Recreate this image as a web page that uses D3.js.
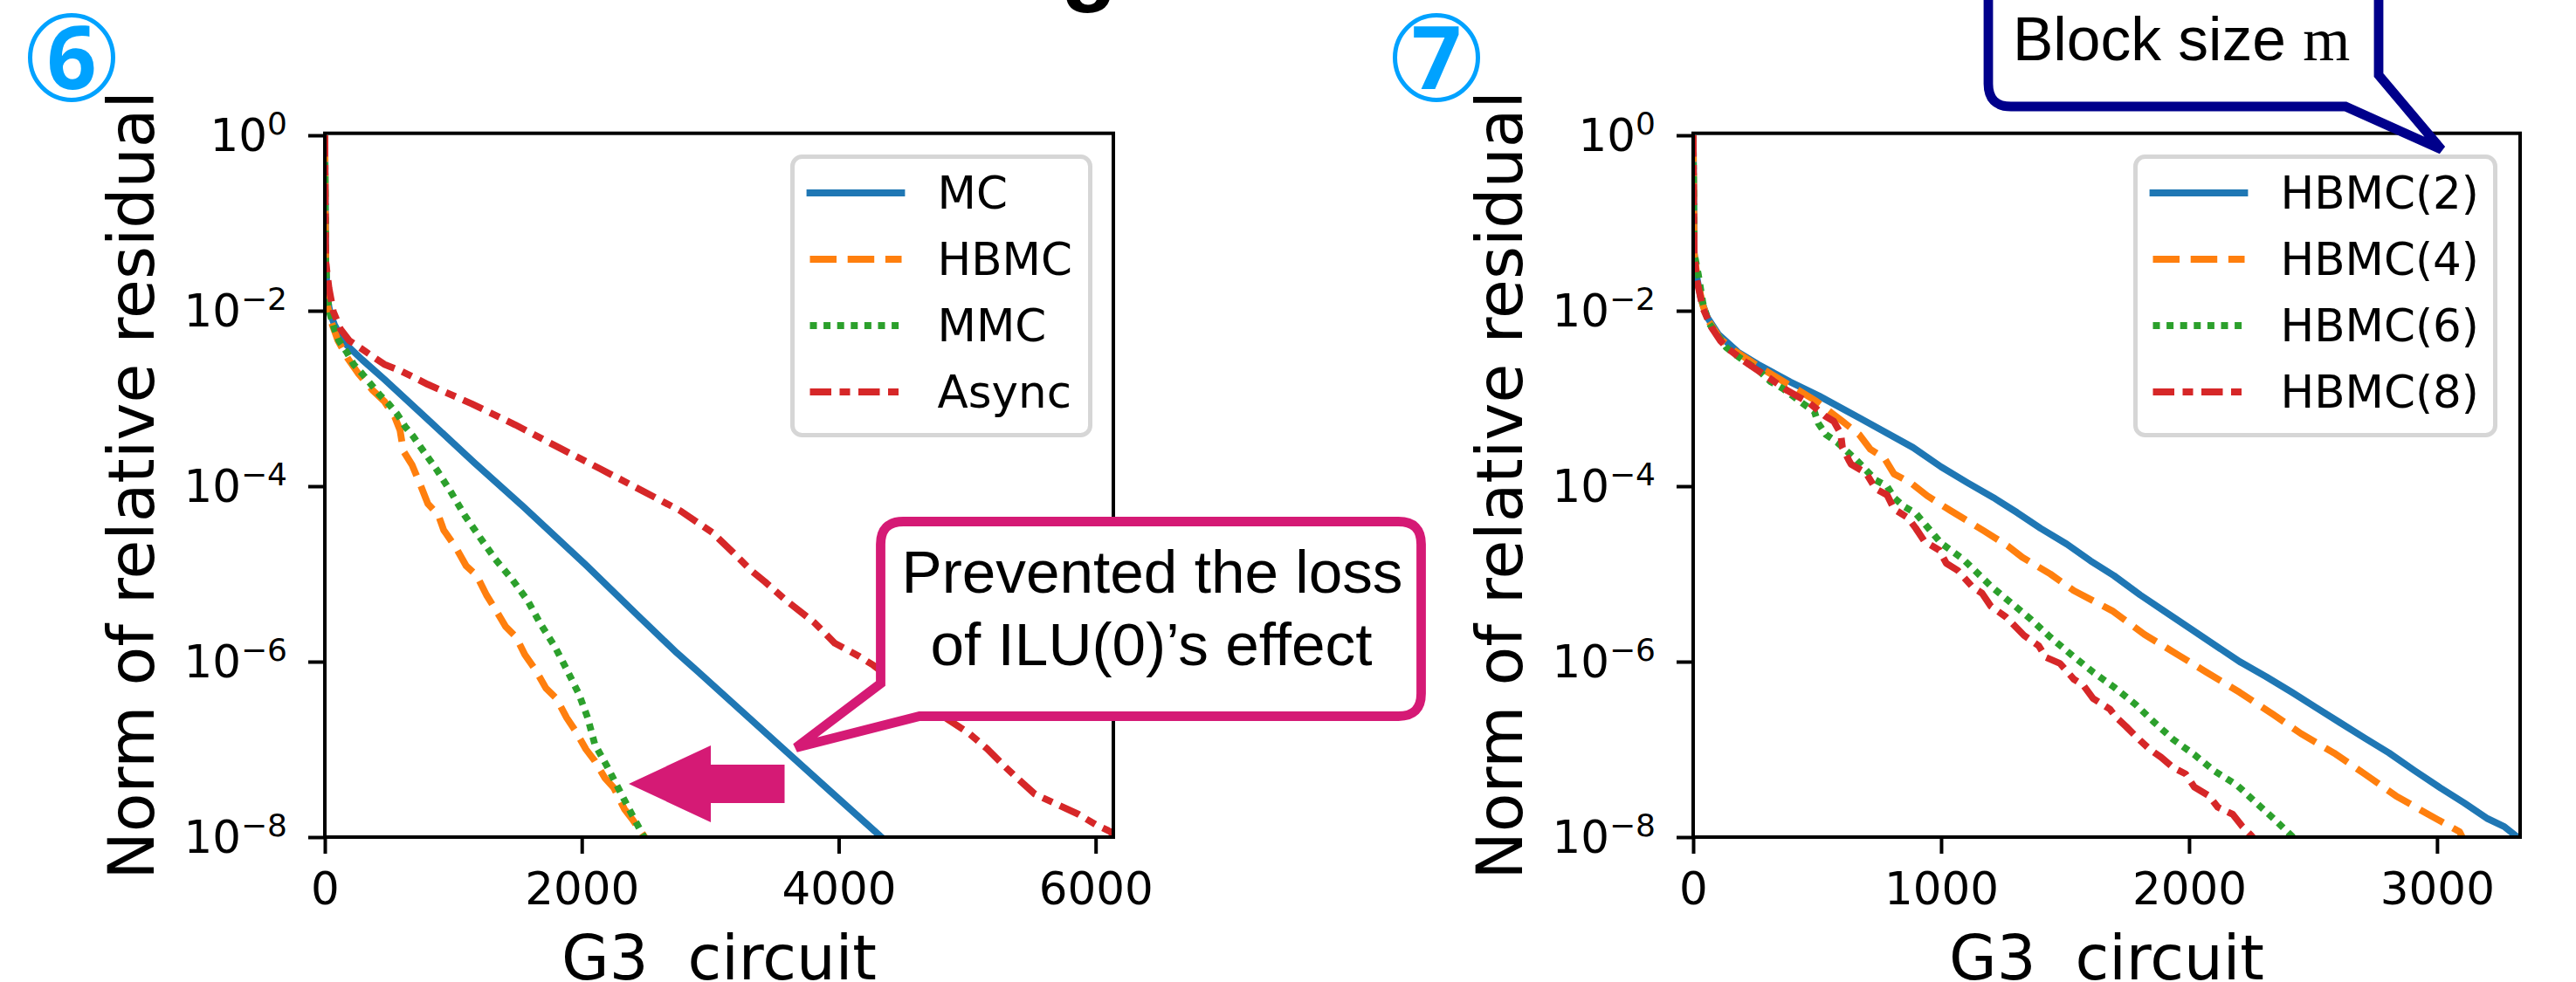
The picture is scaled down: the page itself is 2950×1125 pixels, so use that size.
<!DOCTYPE html>
<html><head><meta charset="utf-8">
<script src="https://cdn.jsdelivr.net/npm/d3@7"></script>
<style>
html,body{margin:0;padding:0;background:#fff;overflow:hidden}
svg{display:block}
text{fill:#000}
</style></head><body>
<svg id="c" width="2950" height="1125"></svg>
<script>
// ---- data: [iteration, log10(norm of relative residual)] ----
const xLabel = "G3\u00a0\u00a0circuit";
const yLabel = "Norm\u00a0of\u00a0relative\u00a0residual";
const yTickExponents = [0,-2,-4,-6,-8];
const leftXTicks = [0,2000,4000,6000];
const rightXTicks = [0,1000,2000,3000];
const leftNames = ["MC","HBMC","MMC","Async"];
const rightNames = ["HBMC(2)","HBMC(4)","HBMC(6)","HBMC(8)"];

const mc = [[0,0],[3,-.75],[7,-1.44],[20,-1.87],[41,-2.02],[75,-2.16],[122,-2.29],[170,-2.39],[292,-2.56],[462,-2.78],[802,-3.24],[1162,-3.73],[1550,-4.24],[2033,-4.90],[2434,-5.47],[2740,-5.90],[2910,-6.12],[3535,-6.95],[3929,-7.47],[4324,-7.99],[4350,-8.02]];
const hbmc = [[0,0],[3,-.75],[7,-1.44],[20,-1.94],[54,-2.14],[102,-2.34],[177,-2.54],[258,-2.71],[374,-2.91],[462,-3.03],[544,-3.21],[585,-3.36],[612,-3.60],[680,-3.76],[748,-4.00],[802,-4.20],[884,-4.33],[925,-4.50],[1020,-4.70],[1101,-4.91],[1183,-5.02],[1258,-5.24],[1326,-5.40],[1407,-5.60],[1489,-5.72],[1557,-5.92],[1638,-6.09],[1720,-6.30],[1802,-6.42],[1883,-6.64],[1951,-6.79],[2033,-7.00],[2101,-7.13],[2182,-7.33],[2250,-7.44],[2332,-7.68],[2400,-7.81],[2481,-7.98],[2500,-8.02]];
const mmc = [[0,0],[3,-.75],[7,-1.44],[20,-1.84],[41,-2.04],[75,-2.21],[109,-2.34],[170,-2.47],[224,-2.61],[292,-2.72],[360,-2.84],[428,-2.96],[496,-3.06],[564,-3.18],[625,-3.32],[687,-3.43],[748,-3.56],[870,-3.81],[979,-4.06],[1088,-4.33],[1210,-4.59],[1326,-4.83],[1462,-5.07],[1577,-5.30],[1679,-5.57],[1795,-5.84],[1883,-6.09],[1978,-6.37],[2046,-6.64],[2101,-6.94],[2196,-7.19],[2291,-7.46],[2386,-7.73],[2481,-7.99],[2490,-8.02]];
const asyncRes = [[0,0],[3,-.75],[7,-1.44],[32,-1.74],[66,-2.01],[122,-2.21],[190,-2.34],[272,-2.42],[462,-2.61],[598,-2.69],[802,-2.84],[1142,-3.06],[1482,-3.30],[1822,-3.56],[2141,-3.80],[2468,-4.05],[2767,-4.28],[3018,-4.53],[3181,-4.76],[3317,-4.96],[3426,-5.09],[3589,-5.30],[3807,-5.55],[3970,-5.79],[4160,-5.94],[4269,-6.04],[4541,-6.34],[4861,-6.67],[5017,-6.82],[5153,-6.99],[5289,-7.19],[5391,-7.33],[5527,-7.51],[5676,-7.61],[5867,-7.74],[6003,-7.86],[6118,-7.94],[6138,-7.99]];

const hbmc2 = [[0,0],[2,-.75],[4,-1.34],[14,-1.61],[32,-1.87],[56,-2.07],[102,-2.27],[180,-2.47],[261,-2.61],[391,-2.81],[507,-2.97],[676,-3.23],[887,-3.56],[1000,-3.78],[1106,-3.96],[1211,-4.13],[1306,-4.30],[1401,-4.48],[1507,-4.66],[1602,-4.85],[1697,-5.02],[1803,-5.24],[1898,-5.42],[2003,-5.62],[2109,-5.82],[2204,-6.00],[2310,-6.17],[2415,-6.35],[2510,-6.52],[2606,-6.69],[2708,-6.87],[2806,-7.04],[2908,-7.24],[3014,-7.44],[3109,-7.61],[3204,-7.79],[3271,-7.88],[3320,-7.99],[3330,-8.02]];
const hbmc4 = [[0,0],[2,-.75],[4,-1.34],[18,-1.66],[39,-1.94],[63,-2.12],[109,-2.32],[169,-2.46],[239,-2.59],[296,-2.69],[366,-2.81],[426,-2.91],[496,-3.03],[542,-3.13],[602,-3.26],[669,-3.41],[715,-3.58],[771,-3.68],[810,-3.86],[877,-3.96],[944,-4.11],[1039,-4.28],[1173,-4.51],[1268,-4.68],[1327,-4.81],[1440,-5.00],[1535,-5.19],[1690,-5.42],[1820,-5.69],[1954,-5.92],[2070,-6.12],[2204,-6.35],[2338,-6.60],[2451,-6.82],[2584,-7.04],[2708,-7.28],[2834,-7.53],[2958,-7.73],[3091,-7.94],[3105,-8.02]];
const hbmc6 = [[0,0],[2,-.75],[4,-1.34],[21,-1.59],[39,-1.91],[63,-2.14],[134,-2.42],[180,-2.52],[268,-2.69],[313,-2.81],[363,-2.89],[401,-2.97],[444,-3.06],[489,-3.15],[504,-3.28],[535,-3.41],[581,-3.50],[658,-3.70],[736,-3.93],[782,-4.00],[810,-4.13],[849,-4.23],[898,-4.31],[1000,-4.65],[1088,-4.83],[1165,-5.04],[1201,-5.14],[1278,-5.32],[1363,-5.52],[1440,-5.72],[1525,-5.92],[1613,-6.12],[1697,-6.29],[1785,-6.49],[1859,-6.69],[1937,-6.89],[2021,-7.06],[2099,-7.24],[2194,-7.41],[2271,-7.61],[2349,-7.81],[2415,-7.99],[2425,-8.02]];
const hbmc8 = [[0,0],[2,-.75],[4,-1.34],[14,-1.64],[39,-1.97],[74,-2.19],[109,-2.34],[144,-2.44],[204,-2.57],[250,-2.66],[303,-2.76],[380,-2.91],[468,-3.05],[532,-3.20],[567,-3.26],[595,-3.40],[602,-3.56],[627,-3.70],[637,-3.75],[697,-3.85],[736,-4.03],[782,-4.10],[810,-4.26],[866,-4.36],[898,-4.48],[933,-4.63],[993,-4.73],[1021,-4.88],[1067,-4.96],[1127,-5.15],[1165,-5.22],[1201,-5.37],[1261,-5.49],[1289,-5.57],[1334,-5.70],[1394,-5.82],[1422,-5.95],[1479,-6.02],[1535,-6.20],[1574,-6.27],[1613,-6.42],[1680,-6.54],[1708,-6.64],[1746,-6.74],[1803,-6.90],[1842,-7.00],[1887,-7.09],[1937,-7.21],[1986,-7.28],[2021,-7.43],[2081,-7.53],[2116,-7.66],[2176,-7.74],[2215,-7.88],[2250,-7.98],[2262,-8.02]];

const seriesColors = ["#1f77b4","#ff7f0e","#2ca02c","#d62728"];
const seriesDashes = [null,"30.5 12.7","8 7.6","24.5 9.5 12 9.5"];

// ---- drawing ----
const svg = d3.select("#c");
const DS = "'DejaVu Sans'", LS = "'Liberation Sans'";
svg.append("rect").attr("width",2950).attr("height",1125).attr("fill","#fff");

function panel(o){
  const g = svg.append("g");
  const x = d3.scaleLinear().domain([0,o.xMax]).range([o.left,o.right]);
  const y = d3.scaleLog().domain([1e-8,Math.pow(10,0.023)]).range([959,152.7]);
  const id = "clip"+o.left;
  svg.append("clipPath").attr("id",id).append("rect")
    .attr("x",o.left).attr("y",152.7).attr("width",o.right-o.left).attr("height",959-152.7);
  const line = d3.line().x(d=>x(d[0])).y(d=>y(Math.pow(10,d[1])));
  o.series.forEach((s,i)=>{
    g.append("path").datum(s).attr("d",line).attr("fill","none")
      .attr("clip-path",`url(#${id})`)
      .attr("stroke",seriesColors[i]).attr("stroke-width",7.8)
      .attr("stroke-linejoin","round")
      .attr("stroke-dasharray",seriesDashes[i]);
  });
  // axes
  const ax = g.append("g").attr("transform","translate(0,959)")
    .call(d3.axisBottom(x).tickValues(o.xTicks).tickSize(19).tickPadding(0).tickFormat(d3.format("d")));
  ax.selectAll(".domain").remove();
  ax.selectAll("line").attr("stroke","#000").attr("stroke-width",4);
  ax.selectAll("text").attr("font-family",DS).attr("font-size",51.5).attr("fill","#000")
    .attr("y",77).attr("dy",null);
  const ay = g.append("g").attr("transform",`translate(${o.left},0)`)
    .call(d3.axisLeft(y).tickValues(yTickExponents.map(e=>Math.pow(10,e))).tickSize(19));
  ay.selectAll(".domain").remove();
  ay.selectAll("line").attr("stroke","#000").attr("stroke-width",4);
  ay.selectAll("text").each(function(d){
    const e = Math.round(Math.log10(d));
    const t = d3.select(this).text(null).attr("font-family",DS).attr("font-size",51.5).attr("fill","#000")
      .attr("x",o.tickRight-o.left).attr("dy",null).attr("y",17.5).attr("text-anchor","end");
    t.append("tspan").text("10");
    t.append("tspan").attr("font-size",36).attr("dy",-19).text(String(e).replace("-","\u2212"));
  });
  // spines
  g.append("rect").attr("x",o.left).attr("y",152.7).attr("width",o.right-o.left).attr("height",959-152.7)
    .attr("fill","none").attr("stroke","#000").attr("stroke-width",4).attr("stroke-linejoin","miter");
  // labels
  g.append("text").attr("x",(o.left+o.right)/2).attr("y",1122).attr("text-anchor","middle")
    .attr("font-family",DS).attr("font-size",70.5).text(xLabel);
  g.append("text").attr("transform",`translate(${o.yLabelX},556) rotate(-90)`).attr("text-anchor","middle")
    .attr("font-family",DS).attr("font-size",73).text(yLabel);
  // legend
  const lg = g.append("g");
  lg.append("rect").attr("x",o.legL+2.5).attr("y",179.5).attr("width",o.legR-o.legL-5).attr("height",319)
    .attr("rx",11).attr("fill","#fff").attr("fill-opacity",0.95).attr("stroke","#d6d6d6").attr("stroke-width",5);
  o.names.forEach((n,i)=>{
    const ly = 221+i*76;
    lg.append("path").attr("d",d3.line()([[o.legL+22.5,ly],[o.legL+127.5,ly]]))
      .attr("stroke",seriesColors[i]).attr("stroke-width",7.8).attr("fill","none")
      .attr("stroke-linecap",i===0?"square":"butt")
      .attr("stroke-dasharray",seriesDashes[i]);
    lg.append("text").attr("x",o.legL+168.5).attr("y",ly+17.5).attr("font-family",DS).attr("font-size",51.5).text(n);
  });
  // circled number
  const cg = g.append("g");
  cg.append("ellipse").attr("cx",o.numX).attr("cy",66).attr("rx",47.5).attr("ry",48.5)
    .attr("fill","none").attr("stroke","#00a2ff").attr("stroke-width",5);
  cg.append("text").attr("x",o.numX).attr("y",102).attr("text-anchor","middle")
    .attr("font-family","'Noto Sans'").attr("font-weight",700).attr("font-size",100)
    .style("fill","#00a2ff").text(o.num);
}

panel({left:372,right:1275,xMax:6138,xTicks:leftXTicks,tickRight:329,yLabelX:176,
  series:[mc,hbmc,mmc,asyncRes],names:leftNames,legL:905,legR:1251,numX:82,num:"6"});
panel({left:1939,right:2886,xMax:3335,xTicks:rightXTicks,tickRight:1896,yLabelX:1743,
  series:[hbmc2,hbmc4,hbmc6,hbmc8],names:rightNames,legL:2443,legR:2860,numX:1645,num:"7"});

// title fragment at top edge
svg.append("text").attr("x",1247).attr("y",-7).attr("text-anchor","middle")
  .attr("font-family",LS).attr("font-weight",700).attr("font-size",105).text("g");

// annotations
const pink = "#d51a75", navy = "#00008b";
svg.append("path").attr("d",d3.line()([[720,898],[814,854],[814,876],[898.5,876],[898.5,920],[814,920],[814,942]])+"Z")
  .attr("fill",pink);

function callout(L,R,T,B,r,tail,color){
  const p = d3.path();
  if(tail.side==="left"){
    p.moveTo(L+r,T); p.lineTo(R-r,T); p.quadraticCurveTo(R,T,R,T+r); p.lineTo(R,B-r); p.quadraticCurveTo(R,B,R-r,B);
    p.lineTo(tail.b[0],B); p.lineTo(tail.tip[0],tail.tip[1]); p.lineTo(L,tail.a); p.lineTo(L,T+r); p.quadraticCurveTo(L,T,L+r,T);
  } else {
    p.moveTo(L+r,T); p.lineTo(R-r,T); p.quadraticCurveTo(R,T,R,T+r); p.lineTo(R,tail.a); p.lineTo(tail.tip[0],tail.tip[1]);
    p.lineTo(tail.b[0],B); p.lineTo(L+r,B); p.quadraticCurveTo(L,B,L,B-r); p.lineTo(L,T+r); p.quadraticCurveTo(L,T,L+r,T);
  }
  p.closePath();
  svg.append("path").attr("d",p.toString()).attr("fill","#fff").attr("stroke",color).attr("stroke-width",10.8)
    .attr("stroke-linejoin","miter").attr("stroke-miterlimit",4);
}
callout(1008.5,1627.5,597.5,820.5,26,{side:"left",a:783,tip:[911.5,856.5],b:[1053,820.5]},pink);
svg.append("text").attr("x",1319.5).attr("y",679).attr("text-anchor","middle").attr("font-family",LS).attr("font-size",69.3).text("Prevented the loss");
svg.append("text").attr("x",1318.5).attr("y",762).attr("text-anchor","middle").attr("font-family",LS).attr("font-size",69.3).text("of ILU(0)\u2019s effect");

callout(2277,2724,-40,122,26,{side:"right",a:86,tip:[2796,171.4],b:[2686,122]},navy);
const bt = svg.append("text").attr("x",2305).attr("y",69).attr("font-family",LS).attr("font-size",69.5);
bt.append("tspan").text("Block size\u00a0");
bt.append("tspan").attr("font-family","'Liberation Serif'").text("m");
</script>
</body></html>
